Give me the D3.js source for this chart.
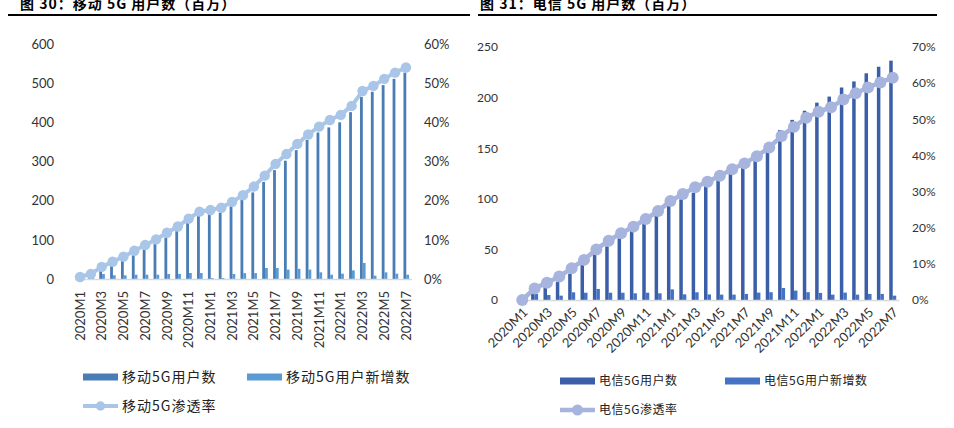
<!DOCTYPE html>
<html><head><meta charset="utf-8">
<script src="https://cdn.jsdelivr.net/npm/d3@7"></script>
<style>
body{margin:0;background:#fff;}
svg{display:block;}
.tick text{font-family:Lato,"Noto Sans",sans-serif;fill:#333;}
</style></head>
<body><svg id="c" width="954" height="428"></svg>
<script>
// ---------- data ----------
const categories = ["2020M1","2020M2","2020M3","2020M4","2020M5","2020M6","2020M7","2020M8","2020M9","2020M10","2020M11","2020M12",
"2021M1","2021M2","2021M3","2021M4","2021M5","2021M6","2021M7","2021M8","2021M9","2021M10","2021M11","2021M12",
"2022M1","2022M2","2022M3","2022M4","2022M5","2022M6","2022M7"];
const tickLabels = ["2020M1","2020M3","2020M5","2020M7","2020M9","2020M11","2021M1","2021M3","2021M5","2021M7","2021M9","2021M11","2022M1","2022M3","2022M5","2022M7"];

// China Mobile (left)
const mobileUsers = [5,13,24,36,48,61,76,91,106,124,144,162,166,169,186,204,221,248,278,302,329,355,374,387,400,426,465,478,495,511,527];
const mobileNew   = [0,8,12.8,9.4,9.4,11,11,11,12.8,12.8,15.3,15.3,2.5,2.5,12.8,15,15,28,28,24,26,24,17,11,13.6,22,41,8.5,17,13.6,11];
const mobilePen   = [0.005,0.013,0.031,0.044,0.057,0.072,0.087,0.101,0.118,0.134,0.154,0.172,0.176,0.182,0.197,0.214,0.236,0.264,0.294,0.319,0.345,0.369,0.389,0.406,0.419,0.442,0.480,0.493,0.511,0.527,0.540];
const mobileLeftTicks = [0,100,200,300,400,500,600];
const mobileRightTicks = [0,0.1,0.2,0.3,0.4,0.5,0.6];

// China Telecom (right)
const telecomUsers = [0,8,13,18,26,34.5,45.5,53,61,69,76,83,94,99.5,106,114,120,127,134,144,155,168,178,187,195,201,210,216,224,230.5,236.5];
const telecomNew   = [0,5.9,4.9,4.3,7.6,7.2,10.9,7.2,7.2,6.6,7.2,6.6,10.5,5.6,7.6,5.5,5.3,5.3,6,7.3,7.7,11.9,9.3,7.7,7,5.3,7.3,5.3,6,6,4.3];
const telecomPen   = [0,0.032,0.048,0.065,0.088,0.111,0.140,0.164,0.185,0.203,0.224,0.246,0.274,0.293,0.312,0.327,0.344,0.362,0.378,0.398,0.422,0.454,0.479,0.504,0.521,0.533,0.555,0.572,0.588,0.602,0.615];
const telecomLeftTicks = [0,50,100,150,200,250];
const telecomRightTicks = [0,0.1,0.2,0.3,0.4,0.5,0.6,0.7];

// ---------- drawing ----------
const svg = d3.select("#c");
svg.append("rect").attr("width",954).attr("height",428).attr("fill","#fff");

const CJK = '"Noto Sans CJK SC","Noto Sans",sans-serif';

// titles
function title(x, x1, x2, txt){
  svg.append("text").attr("x",x).attr("y",9).text(txt)
    .attr("font-family",CJK).attr("font-weight","bold").attr("font-size",14)
    .attr("letter-spacing",1).attr("fill","#000");
  svg.append("line").attr("x1",x1).attr("x2",x2).attr("y1",15).attr("y2",15)
    .attr("stroke","#000").attr("stroke-width",2);
}
title(20, 8, 470, "图 30：移动 5G 用户数（百万）");
title(480, 478, 937, "图 31：电信 5G 用户数（百万）");

function chart(cfg){
  const g = svg.append("g");
  const x = d3.scaleBand(categories, cfg.xr).padding(0);
  const cx = d => x(d) + x.bandwidth()/2;
  const y = d3.scaleLinear([0, cfg.ymax], [cfg.y0, cfg.y1]);
  const y2 = d3.scaleLinear([0, cfg.pmax], [cfg.y0, cfg.y1]);

  // left axis
  const la = g.append("g").attr("transform",`translate(${cfg.laX},0)`)
    .call(d3.axisLeft(y).tickValues(cfg.lt).tickSize(0).tickPadding(0));
  la.select(".domain").remove();
  la.selectAll("text").attr("font-size",cfg.fs);
  // right axis
  const ra = g.append("g").attr("transform",`translate(${cfg.raX},0)`)
    .call(d3.axisRight(y2).tickValues(cfg.rt).tickFormat(d3.format(".0%")).tickSize(0).tickPadding(0));
  ra.select(".domain").remove();
  ra.selectAll("text").attr("font-size",cfg.fs);

  // bars
  const bw = cfg.bw;
  g.append("g").selectAll("rect").data(cfg.users).join("rect")
    .attr("x",(d,i)=>cx(categories[i]) - bw + cfg.off)
    .attr("width",bw)
    .attr("y",d=>y(d)).attr("height",d=>cfg.y0 - y(d))
    .attr("fill",cfg.c1);
  g.append("g").selectAll("rect").data(cfg.news).join("rect")
    .attr("x",(d,i)=>cx(categories[i]) + cfg.off)
    .attr("width",bw)
    .attr("y",d=>y(d)).attr("height",d=>cfg.y0 - y(d))
    .attr("fill",cfg.c2);

  // x axis
  const xa = g.append("g").attr("transform",`translate(0,${cfg.y0})`)
    .call(d3.axisBottom(x).tickValues(tickLabels).tickSize(0).tickSizeOuter(0));
  xa.select(".domain").attr("stroke","#d9d9d9").attr("stroke-width",1.5);
  xa.selectAll("text").attr("font-size",cfg.xfs).attr("text-anchor","end")
    .attr("y",0).attr("dy","0.35em").attr("x",0)
    .attr("transform",cfg.rot);

  // line
  const line = d3.line().x((d,i)=>cx(categories[i])).y(d=>y2(d));
  g.append("path").datum(cfg.pen).attr("d",line).attr("fill","none")
    .attr("stroke",cfg.c3).attr("stroke-width",cfg.lw);
  g.append("g").selectAll("circle").data(cfg.pen).join("circle")
    .attr("cx",(d,i)=>cx(categories[i])).attr("cy",d=>y2(d)).attr("r",cfg.r)
    .attr("fill",cfg.c3);

  // legend
  const L = cfg.leg;
  const lg = g.append("g").attr("font-family",CJK).attr("font-size",L.fs).attr("letter-spacing",L.ls).attr("fill","#222");
  lg.append("rect").attr("x",L.x1).attr("y",L.r1-3.5).attr("width",35).attr("height",7).attr("fill",cfg.c1);
  lg.append("text").attr("x",L.x1+39).attr("y",L.r1).attr("dy","0.35em").text(L.t1);
  lg.append("rect").attr("x",L.x2).attr("y",L.r1-3.5).attr("width",35).attr("height",7).attr("fill",cfg.c2);
  lg.append("text").attr("x",L.x2+39).attr("y",L.r1).attr("dy","0.35em").text(L.t2);
  lg.append("line").attr("x1",L.x1).attr("x2",L.x1+35).attr("y1",L.r2).attr("y2",L.r2).attr("stroke",cfg.c3).attr("stroke-width",cfg.lw);
  lg.append("circle").attr("cx",L.x1+17.5).attr("cy",L.r2).attr("r",cfg.r-0.5).attr("fill",cfg.c3);
  lg.append("text").attr("x",L.x1+39).attr("y",L.r2).attr("dy","0.35em").text(L.t3);
}

chart({
  xr:[74.6,411.4], y0:279, y1:44, ymax:600, pmax:0.6, laX:54, raX:424, fs:13, xfs:13,
  lt:mobileLeftTicks, rt:mobileRightTicks, users:mobileUsers, news:mobileNew, pen:mobilePen,
  bw:2.8, off:0.3, c1:"#4a7db5", c2:"#5b9bd5", c3:"#a9c5e8", lw:4, r:5.2,
  rot:"translate(0,12) rotate(-90)",
  leg:{x1:83,x2:247,r1:377,r2:406,fs:14,ls:1,t1:"移动5G用户数",t2:"移动5G用户新增数",t3:"移动5G渗透率"}
});
chart({
  xr:[516.1,898.9], y0:300, y1:47, ymax:250, pmax:0.7, laX:498, raX:912, fs:12, xfs:13,
  lt:telecomLeftTicks, rt:telecomRightTicks, users:telecomUsers, news:telecomNew, pen:telecomPen,
  bw:3.5, off:0, c1:"#3a5ea8", c2:"#4472c4", c3:"#a6b4de", lw:4.5, r:6,
  rot:"translate(3,10) rotate(-45)",
  leg:{x1:560,x2:725,r1:381,r2:410,fs:12,ls:0.5,t1:"电信5G用户数",t2:"电信5G用户新增数",t3:"电信5G渗透率"}
});
</script></body></html>
